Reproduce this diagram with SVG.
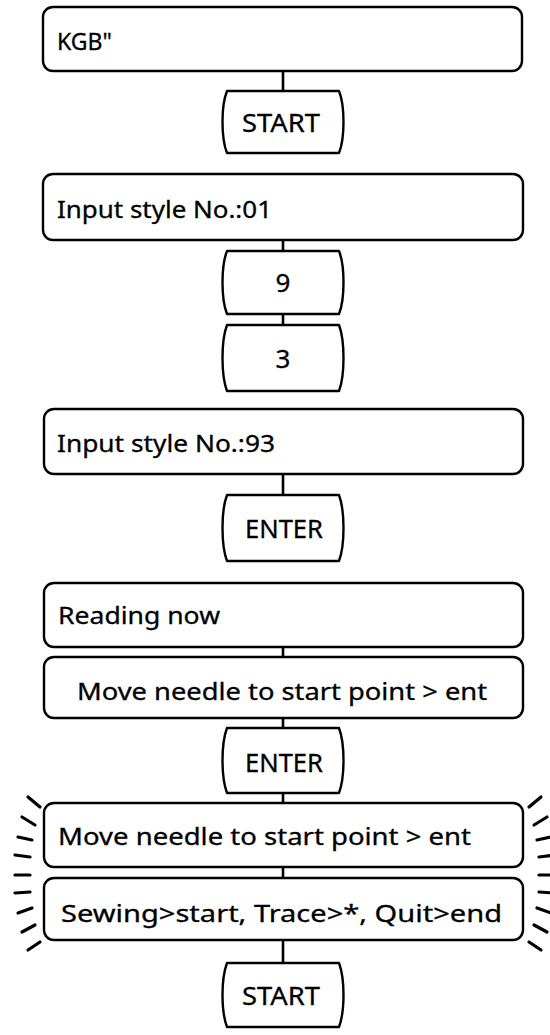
<svg xmlns="http://www.w3.org/2000/svg" width="550" height="1035" viewBox="0 0 550 1035">
<style>
.box{fill:#fff;stroke:#000;stroke-width:2.4}
.key{fill:#fff;stroke:#000;stroke-width:2.4;stroke-linejoin:round}
.t{font-family:"Noto Sans","Open Sans",sans-serif;font-size:24px;fill:#000;stroke:#000;stroke-width:0.3}
.k{font-family:"Noto Sans","Open Sans",sans-serif;font-size:26px;fill:#000;stroke:#000;stroke-width:0.3;text-anchor:middle}
.c{stroke:#000;stroke-width:2.6;fill:none}
.f{stroke:#000;stroke-width:3.2;stroke-linecap:round}
</style>
<rect width="550" height="1035" fill="#fff"/>
<g id="connectors">
<line class="c" x1="283" y1="71" x2="283" y2="91"/>
<line class="c" x1="283" y1="240" x2="283" y2="251"/>
<line class="c" x1="283" y1="314" x2="283" y2="325"/>
<line class="c" x1="283" y1="474" x2="283" y2="495"/>
<line class="c" x1="283" y1="647" x2="283" y2="657"/>
<line class="c" x1="283" y1="718" x2="283" y2="728"/>
<line class="c" x1="283" y1="793" x2="283" y2="803"/>
<line class="c" x1="283" y1="867" x2="283" y2="878"/>
<line class="c" x1="283" y1="940" x2="283" y2="963"/>
</g>
<g id="n1"><rect class="box" x="43" y="7" width="479" height="64" rx="10"/><text class="t" x="57" y="50" textLength="55" lengthAdjust="spacingAndGlyphs">KGB"</text></g>
<g id="n2"><path class="key" d="M227,91 H339 C345,106 345,138 339,153 H227 C221,138 221,106 227,91 Z"/><text class="k" x="281" y="132" textLength="78" lengthAdjust="spacingAndGlyphs">START</text></g>
<g id="n3"><rect class="box" x="43" y="174" width="480" height="66" rx="10"/><text class="t" x="57" y="218" textLength="215" lengthAdjust="spacingAndGlyphs">Input style No.:01</text></g>
<g id="n4"><path class="key" d="M227,251 H339 C345,266 345,299 339,314 H227 C221,299 221,266 227,251 Z"/><text class="k" x="283" y="292">9</text></g>
<g id="n5"><path class="key" d="M227,325 H339 C345,341 345,375 339,391 H227 C221,375 221,341 227,325 Z"/><text class="k" x="283" y="368">3</text></g>
<g id="n6"><rect class="box" x="44" y="409" width="479" height="65" rx="10"/><text class="t" x="57" y="452" textLength="218" lengthAdjust="spacingAndGlyphs">Input style No.:93</text></g>
<g id="n7"><path class="key" d="M227,495 H339 C345,511 345,545 339,561 H227 C221,545 221,511 227,495 Z"/><text class="k" x="284" y="538" textLength="78" lengthAdjust="spacingAndGlyphs">ENTER</text></g>
<g id="n8"><rect class="box" x="44" y="583" width="479" height="64" rx="10"/><text class="t" x="58" y="624" textLength="162" lengthAdjust="spacingAndGlyphs">Reading now</text></g>
<g id="n9"><rect class="box" x="44" y="657" width="479" height="61" rx="10"/><text class="t" x="77" y="700" textLength="410" lengthAdjust="spacingAndGlyphs">Move needle to start point &gt; ent</text></g>
<g id="n10"><path class="key" d="M227,728 H339 C345,744 345,777 339,793 H227 C221,777 221,744 227,728 Z"/><text class="k" x="284" y="772" textLength="78" lengthAdjust="spacingAndGlyphs">ENTER</text></g>
<g id="n11"><rect class="box" x="44" y="803" width="479" height="64" rx="10"/><text class="t" x="58" y="845" textLength="413" lengthAdjust="spacingAndGlyphs">Move needle to start point &gt; ent</text></g>
<g id="n12"><rect class="box" x="44" y="878" width="479" height="62" rx="10"/><text class="t" x="61" y="922" textLength="441" lengthAdjust="spacingAndGlyphs">Sewing&gt;start, Trace&gt;*, Quit&gt;end</text></g>
<g id="n13"><path class="key" d="M227,963 H339 C345,979 345,1011 339,1027 H227 C221,1011 221,979 227,963 Z"/><text class="k" x="281" y="1005" textLength="78" lengthAdjust="spacingAndGlyphs">START</text></g>
<g id="flash">
<line class="f" x1="28" y1="797" x2="40" y2="807"/>
<line class="f" x1="22" y1="817" x2="35" y2="825"/>
<line class="f" x1="18" y1="837" x2="32" y2="840"/>
<line class="f" x1="15" y1="855" x2="30" y2="857"/>
<line class="f" x1="15" y1="875" x2="30" y2="875"/>
<line class="f" x1="15" y1="893" x2="30" y2="892"/>
<line class="f" x1="18" y1="913" x2="32" y2="908"/>
<line class="f" x1="22" y1="932" x2="35" y2="925"/>
<line class="f" x1="28" y1="950" x2="40" y2="942"/>
<line class="f" x1="541" y1="797" x2="529" y2="807"/>
<line class="f" x1="547" y1="817" x2="534" y2="825"/>
<line class="f" x1="551" y1="837" x2="537" y2="840"/>
<line class="f" x1="554" y1="855" x2="539" y2="857"/>
<line class="f" x1="554" y1="875" x2="539" y2="875"/>
<line class="f" x1="554" y1="893" x2="539" y2="892"/>
<line class="f" x1="551" y1="913" x2="537" y2="908"/>
<line class="f" x1="547" y1="932" x2="534" y2="925"/>
<line class="f" x1="541" y1="950" x2="529" y2="942"/>
</g>
</svg>
